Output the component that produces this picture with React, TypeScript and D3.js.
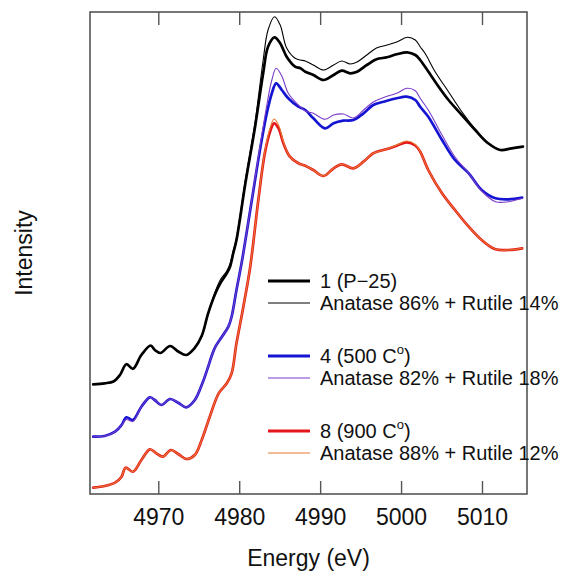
import React from 'react';
import * as d3 from 'd3';

// energies (eV) and intensities (arb. units, stacked)
const energyP25 = [4961.9, 4963.3, 4964.4, 4965.2, 4966.0, 4966.8, 4967.85, 4969.0, 4969.5, 4970.2, 4971.4, 4972.4, 4973.4, 4974.4, 4975.3, 4976.1, 4977.0, 4977.6, 4978.4, 4978.8, 4979.2, 4979.6, 4980.7, 4981.9, 4982.9, 4983.5, 4984.3, 4985.0, 4985.8, 4986.85, 4987.5, 4988.1, 4989.1, 4990.35, 4991.6, 4992.6, 4993.65, 4994.5, 4995.7, 4996.9, 4998.2, 4999.4, 5000.7, 5001.7, 5002.3, 5002.9, 5004.15, 5005.8, 5007.45, 5009.1, 5010.7, 5012.2, 5013.6, 5015.0];
const expP25 = [1.097, 1.107, 1.125, 1.19, 1.298, 1.252, 1.39, 1.485, 1.44, 1.41, 1.48, 1.425, 1.39, 1.457, 1.58, 1.807, 2.007, 2.107, 2.207, 2.273, 2.407, 2.54, 3.107, 3.673, 4.207, 4.473, 4.567, 4.507, 4.373, 4.273, 4.257, 4.223, 4.19, 4.14, 4.19, 4.233, 4.207, 4.223, 4.29, 4.347, 4.367, 4.397, 4.417, 4.39, 4.34, 4.273, 4.123, 3.94, 3.79, 3.64, 3.507, 3.44, 3.457, 3.473];
const fitP25 = [1.097, 1.107, 1.125, 1.19, 1.298, 1.252, 1.39, 1.485, 1.44, 1.41, 1.48, 1.425, 1.39, 1.457, 1.58, 1.807, 2.03, 2.14, 2.23, 2.3, 2.43, 2.56, 3.14, 3.72, 4.34, 4.64, 4.773, 4.69, 4.46, 4.357, 4.34, 4.33, 4.29, 4.24, 4.29, 4.33, 4.3, 4.32, 4.39, 4.46, 4.49, 4.52, 4.567, 4.54, 4.473, 4.407, 4.223, 4.023, 3.823, 3.65, 3.51, 3.44, 3.457, 3.473];

const energy500 = [4961.9, 4963.3, 4964.6, 4965.4, 4966.0, 4966.8, 4967.85, 4968.9, 4969.5, 4970.3, 4971.4, 4972.4, 4973.4, 4974.45, 4975.4, 4976.1, 4976.5, 4977.0, 4977.8, 4978.6, 4979.0, 4979.6, 4980.3, 4981.5, 4982.5, 4983.35, 4983.97, 4984.5, 4985.2, 4986.0, 4987.25, 4988.1, 4989.1, 4990.55, 4991.6, 4992.8, 4994.05, 4995.3, 4996.5, 4997.8, 4999.4, 5000.65, 5001.7, 5002.3, 5003.3, 5005.0, 5006.6, 5008.3, 5009.9, 5011.6, 5013.2, 5014.9];
const exp500 = [0.573, 0.58, 0.623, 0.69, 0.767, 0.74, 0.873, 0.967, 0.94, 0.89, 0.95, 0.913, 0.867, 0.94, 1.11, 1.273, 1.373, 1.473, 1.573, 1.673, 1.773, 2.04, 2.34, 2.94, 3.44, 3.807, 4.007, 4.107, 4.04, 3.957, 3.873, 3.84, 3.757, 3.657, 3.707, 3.733, 3.74, 3.807, 3.89, 3.923, 3.957, 3.973, 3.94, 3.873, 3.773, 3.54, 3.34, 3.207, 3.04, 2.957, 2.947, 2.963];
const fit500 = [0.573, 0.58, 0.623, 0.69, 0.745, 0.725, 0.873, 0.967, 0.94, 0.89, 0.95, 0.913, 0.867, 0.94, 1.11, 1.273, 1.373, 1.473, 1.573, 1.673, 1.773, 2.04, 2.34, 2.95, 3.47, 3.89, 4.14, 4.257, 4.18, 4.007, 3.89, 3.83, 3.807, 3.747, 3.79, 3.8, 3.76, 3.84, 3.92, 3.965, 4.007, 4.057, 4.033, 3.957, 3.84, 3.59, 3.37, 3.207, 3.03, 2.923, 2.923, 2.957];

const energy900 = [4961.9, 4963.3, 4964.6, 4965.4, 4965.9, 4966.8, 4967.85, 4968.9, 4969.7, 4970.5, 4971.5, 4972.4, 4973.4, 4974.45, 4975.3, 4976.3, 4977.4, 4978.4, 4979.0, 4979.6, 4980.45, 4981.3, 4982.3, 4983.1, 4983.75, 4984.25, 4984.8, 4985.4, 4986.2, 4987.25, 4988.1, 4989.1, 4990.35, 4991.6, 4992.6, 4994.05, 4995.3, 4996.5, 4998.2, 4999.4, 5000.65, 5001.7, 5002.3, 5003.3, 5005.0, 5006.6, 5008.3, 5009.9, 5011.6, 5013.2, 5014.9];
const exp900 = [0.063, 0.08, 0.113, 0.173, 0.263, 0.223, 0.34, 0.447, 0.407, 0.373, 0.44, 0.4, 0.35, 0.39, 0.54, 0.773, 1.007, 1.107, 1.207, 1.507, 1.873, 2.273, 2.94, 3.407, 3.623, 3.707, 3.657, 3.507, 3.373, 3.307, 3.283, 3.24, 3.18, 3.257, 3.297, 3.257, 3.323, 3.407, 3.45, 3.483, 3.517, 3.485, 3.423, 3.24, 3.007, 2.84, 2.673, 2.54, 2.447, 2.44, 2.457];
const fit900 = [0.063, 0.08, 0.113, 0.173, 0.263, 0.223, 0.34, 0.447, 0.407, 0.373, 0.44, 0.4, 0.35, 0.39, 0.54, 0.773, 1.007, 1.107, 1.207, 1.507, 1.873, 2.273, 2.94, 3.42, 3.66, 3.75, 3.69, 3.52, 3.373, 3.307, 3.283, 3.24, 3.18, 3.257, 3.297, 3.257, 3.323, 3.407, 3.45, 3.49, 3.53, 3.495, 3.423, 3.24, 3.007, 2.84, 2.673, 2.54, 2.447, 2.44, 2.457];

const xTicks = [4970, 4980, 4990, 5000, 5010];
const xDomain = [4961.5, 5015.5];
const yDomain = [0, 4.82];

// name, energies, values, colour, width
const series: [string, number[], number[], string, number][] = [
  ['p25', energyP25, expP25, '#000000', 2.7],
  ['p25fit', energyP25, fitP25, '#000000', 1.1],
  ['s500', energy500, exp500, '#1414d2', 2.7],
  ['s500fit', energy500, fit500, '#7a3cc8', 1.1],
  ['s900', energy900, exp900, '#e3161b', 2.7],
  ['s900fit', energy900, fit900, '#e8782e', 1.1],
];

const legendMain = ['1 (P\u221225)', '4 (500 C', '8 (900 C'];
const legendFit = ['Anatase 86% + Rutile 14%', 'Anatase 82% + Rutile 18%', 'Anatase 88% + Rutile 12%'];

const W = 571;
const H = 572;
const left = 90, right = 527, top = 12, bottom = 494;
const font = 'Liberation Sans, Arial, sans-serif';

export default function App() {
  const x = d3.scaleLinear().domain(xDomain).range([left, right]);
  const y = d3.scaleLinear().domain(yDomain).range([bottom, top]);
  const line = d3.line<[number, number]>()
    .x(d => x(d[0]))
    .y(d => y(d[1]))
    .curve(d3.curveCatmullRom.alpha(0.5));

  const axisColor = '#555';

  return (
    <div style={{ position: 'absolute', left: 0, top: 0 }}>
      <svg width={W} height={H} style={{ display: 'block', background: '#fff' }}>
        {/* frame */}
        <rect x={left} y={top} width={right - left} height={bottom - top} fill="none" stroke={axisColor} strokeWidth={1.6} />
        {xTicks.map(t => (
          <g key={t}>
            <line x1={x(t)} x2={x(t)} y1={bottom} y2={bottom - 13} stroke={axisColor} strokeWidth={1.4} />
            <line x1={x(t)} x2={x(t)} y1={top} y2={top + 13} stroke={axisColor} strokeWidth={1.4} />
            <text x={x(t)} y={525} textAnchor="middle" fontFamily={font} fontSize={23} fill="#111">{t}</text>
          </g>
        ))}

        {series.map(([name, es, vs, color, w]) => (
          <path key={name} d={line(es.map((e, i) => [e, vs[i]] as [number, number])) || ''}
            fill="none" stroke={color} strokeWidth={w} strokeLinejoin="round" strokeLinecap="round" />
        ))}

        {/* legend */}
        {[0, 1, 2].map(i => {
          const y0 = 281 + i * 75;
          const main = series[i * 2];
          const fit = series[i * 2 + 1];
          return (
            <g key={i} fontFamily={font} fontSize={20} fill="#111">
              <line x1={268} x2={310} y1={y0} y2={y0} stroke={main[3]} strokeWidth={2.8} />
              <text x={320} y={y0} dy="0.36em">
                {legendMain[i]}
                {i > 0 && <tspan fontSize={13} dy={-9}>o</tspan>}
                {i > 0 && <tspan dy={9}>)</tspan>}
              </text>
              <line x1={268} x2={310} y1={y0 + 22} y2={y0 + 22} stroke={fit[3]} strokeWidth={1.2} />
              <text x={320} y={y0 + 22} dy="0.36em">{legendFit[i]}</text>
            </g>
          );
        })}

        <text x={(left + right) / 2} y={566} textAnchor="middle" fontFamily={font} fontSize={23} fill="#111">Energy (eV)</text>
        <text transform={`translate(32,${(top + bottom) / 2}) rotate(-90)`} textAnchor="middle" fontFamily={font} fontSize={23} fill="#111">Intensity</text>
      </svg>
    </div>
  );
}
